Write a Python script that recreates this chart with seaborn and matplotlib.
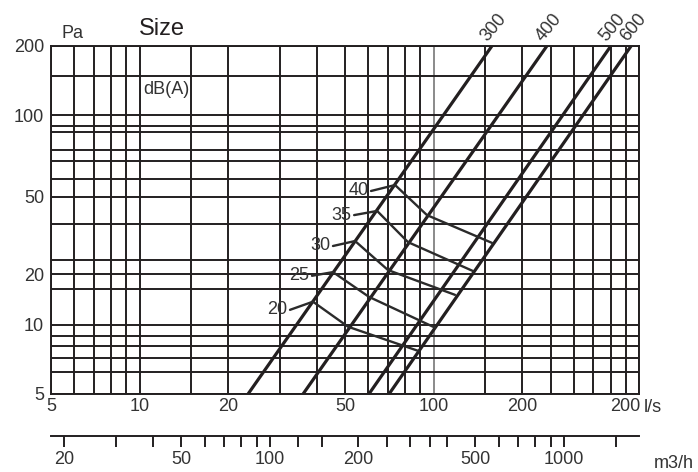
import matplotlib
matplotlib.use('Agg')
import matplotlib.pyplot as plt
import matplotlib.ticker as mticker
import pandas as pd
import seaborn as sns

# grid lines of the chart (l/s and Pa)
flow_grid = [5, 6, 7, 8, 9, 10, 15, 20, 30, 40, 50, 60, 70, 80, 90, 100,
             150, 200, 250, 300, 350, 400, 450, 500]
pressure_grid = [5, 6.3, 7.3, 8.3, 9.2, 10.4, 15.2, 17.8, 20.7, 30.3, 40.4,
                 48.9, 59.1, 66.4, 80.4, 85.6, 96, 146, 200]

# axis labels as printed
flow_ticks = [5, 10, 20, 50, 100, 200, 450]
flow_labels = ['5', '10', '20', '50', '100', '200', '200']
pressure_ticks = [5, 10.4, 17.8, 40.4, 96, 200]
pressure_labels = ['5', '10', '20', '50', '100', '200']

# second scale in m3/h
m3h_ticks = [20, 30, 40, 50, 60, 70, 80, 90, 100, 125, 150, 200, 250, 300,
             350, 400, 500, 600, 700, 800, 900, 1000, 1500]
m3h_labelled = [20, 50, 100, 200, 500, 1000]

# size lines: flow at 5 Pa and at 200 Pa
sizes = ['300', '400', '500', '600']
size_flow_low = [23.4, 36.0, 60.3, 70.6]
size_flow_high = [158, 243, 401, 470]
size_dp = [5, 200]

# dB(A) curves: leader start, point on 300, point on 400, end on 600
db_levels = ['40', '35', '30', '25', '20']
db_flow = [[61.3, 74.0, 95.0, 158.1],
           [53.7, 64.3, 81.9, 136.3],
           [45.5, 54.1, 70.0, 118.3],
           [38.6, 45.5, 60.3, 101.2],
           [32.5, 38.9, 51.2, 88.6]]
db_dp = [[43.0, 45.8, 33.3, 24.8],
         [33.3, 34.8, 25.0, 18.4],
         [24.0, 25.3, 18.6, 14.3],
         [17.5, 18.2, 14.0, 10.1],
         [12.2, 13.3, 10.2, 7.9]]

sns.set_theme(style='white')
plt.rcParams['font.family'] = ['Liberation Sans', 'DejaVu Sans']

ink = '#231f20'
txt = '#333333'
fs = 13

size_df = pd.DataFrame({
    'size': [s for s in sizes for _ in size_dp],
    'flow': [q for lo, hi in zip(size_flow_low, size_flow_high) for q in (lo, hi)],
    'dp': size_dp * len(sizes),
})
db_df = pd.DataFrame({
    'level': [lv for lv, qs in zip(db_levels, db_flow) for _ in qs],
    'flow': [q for qs in db_flow for q in qs],
    'dp': [p for ps in db_dp for p in ps],
})

fig = plt.figure(figsize=(6.98, 4.72), dpi=100)
ax = fig.add_axes([0.0731, 0.1653, 0.8424, 0.7373])
ax.set_xscale('log')
ax.set_yscale('log')

for q in flow_grid:
    ax.axvline(q, color='#8a8a8a' if q == 100 else ink, lw=1.4, zorder=1)
for p in pressure_grid:
    ax.axhline(p, color=ink, lw=1.4, zorder=1)

sns.lineplot(data=size_df, x='flow', y='dp', units='size', estimator=None,
             sort=False, color=ink, lw=2.3, ax=ax, zorder=3)
sns.lineplot(data=db_df, x='flow', y='dp', units='level', estimator=None,
             sort=False, color='#2b2b2b', lw=1.7, ax=ax, zorder=3)

ax.set_xlim(5, 500)
ax.set_ylim(5, 200)
ax.xaxis.set_minor_locator(mticker.NullLocator())
ax.yaxis.set_minor_locator(mticker.NullLocator())
ax.set_xticks(flow_ticks, flow_labels)
ax.set_yticks(pressure_ticks, pressure_labels)
ax.tick_params(length=0, labelsize=fs, labelcolor=txt)
ax.tick_params(axis='x', pad=3)
ax.tick_params(axis='y', pad=5)
ax.set_xlabel('')
ax.set_ylabel('')
for sp in ax.spines.values():
    sp.set_color(ink)
    sp.set_linewidth(1.4)

for s, q in zip(sizes, size_flow_high):
    ax.annotate(s, (q, 200), xytext=(-1, 1), textcoords='offset points',
                rotation=50, rotation_mode='anchor', ha='left', va='bottom',
                fontsize=fs, color=txt, annotation_clip=False)

for lv, qs, ps in zip(db_levels, db_flow, db_dp):
    ax.annotate(lv, (qs[0], ps[0]), xytext=(-2, 0), textcoords='offset points',
                ha='right', va='center', fontsize=fs, color=txt)

ax.text(0.017, 1.037, 'Pa', transform=ax.transAxes, fontsize=fs, color=txt,
        ha='left', va='center')
ax.text(0.150, 1.048, 'Size', transform=ax.transAxes, fontsize=17, color=ink,
        ha='left', va='center')
ax.text(0.156, 0.874, 'dB(A)', transform=ax.transAxes, fontsize=fs, color=txt,
        ha='left', va='center')
ax.text(1.008, -0.040, 'l/s', transform=ax.transAxes, fontsize=fs, color=txt,
        ha='left', va='center')
ax.text(1.025, -0.200, 'm3/h', transform=ax.transAxes, fontsize=fs, color=txt,
        ha='left', va='center')

sec = ax.secondary_xaxis(-0.121, functions=(lambda q: q * 3.6, lambda m: m / 3.6))
sec.xaxis.set_minor_locator(mticker.NullLocator())
sec.set_xticks(m3h_ticks, [str(m) if m in m3h_labelled else '' for m in m3h_ticks])
sec.tick_params(direction='out', length=8, width=1.4, color=ink,
                labelsize=fs, labelcolor=txt, pad=3)
sec.spines['bottom'].set_color(ink)
sec.spines['bottom'].set_linewidth(1.4)

fig.savefig('out.png', dpi=100, facecolor='white')
